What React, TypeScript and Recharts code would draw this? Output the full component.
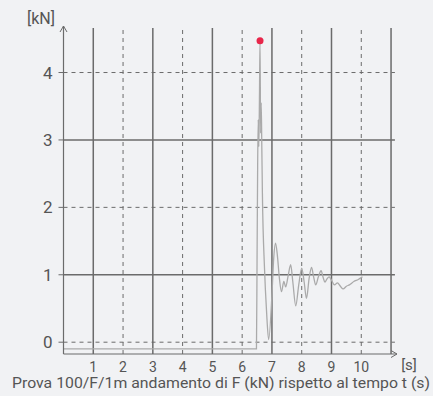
import { Line, LineChart, ReferenceDot, ReferenceLine, XAxis, YAxis } from "recharts";

// time [s] and force [kN]
const TIME = [
  0, 6.48, 6.5, 6.52, 6.54, 6.56, 6.58, 6.6, 6.62, 6.64, 6.66, 6.68, 6.75, 6.82, 6.89,
  7.0, 7.06, 7.12, 7.18, 7.25, 7.32, 7.4, 7.46, 7.55, 7.63, 7.7, 7.8, 7.9, 8.0, 8.08,
  8.16, 8.25, 8.33, 8.4, 8.47, 8.56, 8.65, 8.72, 8.78, 8.85, 8.92, 9.0, 9.1, 9.2, 9.3,
  9.39, 9.5, 9.6, 9.75, 9.9, 10.04,
];
const FORCE = [
  -0.1, -0.1, 1.2, 2.6, 3.3, 2.9, 3.6, 4.47, 3.1, 3.55, 2.9, 2.2, 1.1, 0.45, 0.04,
  0.7, 1.25, 1.47, 1.3, 0.95, 0.75, 0.9, 0.82, 1.0, 1.15, 0.9, 0.54, 0.85, 1.1, 0.9,
  0.65, 0.95, 1.11, 0.97, 0.85, 0.97, 1.06, 0.96, 0.89, 0.94, 0.97, 0.92, 0.85, 0.88, 0.83,
  0.79, 0.83, 0.85, 0.9, 0.93, 0.97,
];
const PEAK = { t: 6.6, f: 4.47 };

const X_TICKS = [1, 2, 3, 4, 5, 6, 7, 8, 9, 10];
const X_GRID = [1, 2, 3, 4, 5, 6, 7, 8, 9, 10, 11];
const Y_TICKS = [0, 1, 2, 3, 4];

const X_MAX = 11.2;
const Y_MIN = -0.175;
const Y_MAX = 4.69;
const GRID_TOP = 4.66;
const GRID_RIGHT = 11.13;

const BG = "#f1f2f4";
const GRID = "#6b6b6b";
const TEXT = "#555";
const FONT = "Roboto, 'Noto Sans', sans-serif";

const data = TIME.map((t, i) => ({ t, f: FORCE[i] }));

const XArrow = (p: any) => (
  <path d={`M${p.cx - 6},${p.cy - 3.5} L${p.cx},${p.cy} L${p.cx - 6},${p.cy + 3.5}`} fill="none" stroke={GRID} strokeWidth={1} />
);
const YArrow = (p: any) => (
  <path d={`M${p.cx - 3.5},${p.cy + 6} L${p.cx},${p.cy} L${p.cx + 3.5},${p.cy + 6}`} fill="none" stroke={GRID} strokeWidth={1} />
);

export default function App() {
  return (
    <div style={{ position: "absolute", left: 0, top: 0, width: 433, height: 396, background: BG, fontFamily: FONT }}>
      <LineChart width={433} height={396} data={data} margin={{ top: 26, right: 36, bottom: 12, left: 0 }}>
        {X_GRID.map((x) => (
          <ReferenceLine
            key={`vx${x}`}
            segment={[{ x, y: Y_MIN }, { x, y: GRID_TOP }]}
            stroke={GRID}
            strokeWidth={x % 2 ? 1.5 : 1}
            strokeDasharray={x % 2 ? undefined : "4 4"}
          />
        ))}
        {Y_TICKS.map((y) => (
          <ReferenceLine
            key={`hy${y}`}
            segment={[{ x: 0, y }, { x: GRID_RIGHT, y }]}
            stroke={GRID}
            strokeWidth={y % 2 ? 1.5 : 1}
            strokeDasharray={y % 2 ? undefined : "4 4"}
          />
        ))}
        <XAxis
          dataKey="t"
          type="number"
          domain={[0, X_MAX]}
          allowDataOverflow
          ticks={X_TICKS}
          height={30}
          tickLine={false}
          tickSize={0}
          tickMargin={8}
          axisLine={{ stroke: GRID, strokeWidth: 1.2 }}
          tick={{ fill: TEXT, fontSize: 14, fontFamily: FONT }}
        />
        <YAxis
          type="number"
          domain={[Y_MIN, Y_MAX]}
          allowDataOverflow
          ticks={Y_TICKS}
          width={63.5}
          tickSize={5}
          tickMargin={6}
          tickLine={{ stroke: GRID }}
          axisLine={{ stroke: GRID, strokeWidth: 1.2 }}
          tick={{ fill: TEXT, fontSize: 17, fontFamily: FONT }}
        />
        <Line
          type="monotone"
          dataKey="f"
          stroke="#aaaaaa"
          strokeWidth={1.3}
          dot={false}
          isAnimationActive={false}
        />
        <ReferenceDot x={PEAK.t} y={PEAK.f} r={3.5} fill="#e8264a" stroke="none" />
        <ReferenceDot x={X_MAX} y={Y_MIN} r={0} shape={XArrow} ifOverflow="visible" />
        <ReferenceDot x={0} y={Y_MAX} r={0} shape={YArrow} ifOverflow="visible" />
      </LineChart>
      <svg width={433} height={396} style={{ position: "absolute", left: 0, top: 0, pointerEvents: "none" }}>
        <text x={41} y={24} textAnchor="middle" fill={TEXT} fontSize={16} fontFamily={FONT}>
          [kN]
        </text>
        <text x={409} y={370} textAnchor="middle" fill={TEXT} fontSize={15} fontFamily={FONT}>
          [s]
        </text>
        <text x={12} y={388} fill={TEXT} fontSize={15.5} fontFamily={FONT} textLength={418} lengthAdjust="spacingAndGlyphs">
          Prova 100/F/1m andamento di F (kN) rispetto al tempo t (s)
        </text>
      </svg>
    </div>
  );
}
